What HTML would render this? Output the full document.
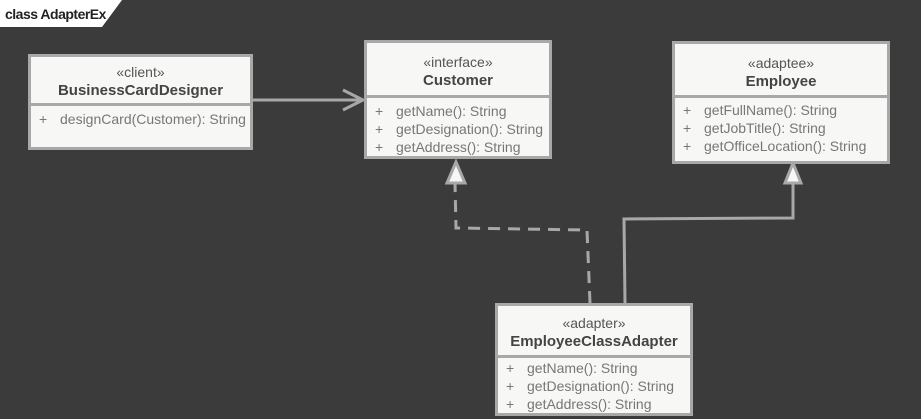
<!DOCTYPE html><html><head><style>
body{margin:0;width:921px;height:419px;background:#3b3b3b;position:relative;overflow:hidden;font-family:"Liberation Sans",sans-serif;}
.b{position:absolute;background:#f7f7f5;border:3px solid #a8a8a8;box-sizing:border-box;color:#555;}
.h{text-align:center;border-bottom:3px solid #a8a8a8;font-size:14px;line-height:18px;padding-top:6px;}
.h b{color:#444;font-size:15px;}
.r{font-size:14px;line-height:18px;padding-left:8px;color:#777;white-space:nowrap;}
.r span{display:inline-block;width:21px;}
</style></head><body>
<svg width="921" height="419" style="position:absolute;left:0;top:0">
<polygon points="0,0 122,0 102,27 0,27" fill="#fff"/>
<text x="5" y="19" font-family="Liberation Sans" font-size="14" font-weight="bold" fill="#222" letter-spacing="-0.5">class AdapterEx</text>
<g stroke="#a8a8a8" stroke-width="3" fill="none">
<line x1="252" y1="100" x2="362" y2="100"/>
<polyline points="343,90 363,100 343,110"/>
<polyline points="590,303 587,230 456,228 455,183" stroke-dasharray="12,8"/>
<polyline points="625,303 624,219 793,218 793,183"/>
<polygon points="456,162 447,183 465,183" fill="#f7f7f5"/>
<polygon points="793,163 785,183 801,183" fill="#f7f7f5"/>
</g></svg>
<div class="b" style="left:28px;top:54px;width:225px;height:96px"><div class="h" style="height:40px">«client»<br><b>BusinessCardDesigner</b></div><div class="r" style="padding-top:4px"><span>+</span>designCard(Customer): String</div></div>
<div class="b" style="left:364px;top:40px;width:188px;height:119px"><div class="h" style="padding-top:10px;box-sizing:border-box;height:55px">«interface»<br><b>Customer</b></div><div class="r" style="padding-top:4px"><span>+</span>getName(): String<br><span>+</span>getDesignation(): String<br><span>+</span>getAddress(): String</div></div>
<div class="b" style="left:672px;top:41px;width:218px;height:123px"><div class="h" style="padding-top:10px;box-sizing:border-box;height:54px">«adaptee»<br><b>Employee</b></div><div class="r" style="padding-top:3px"><span>+</span>getFullName(): String<br><span>+</span>getJobTitle(): String<br><span>+</span>getOfficeLocation(): String</div></div>
<div class="b" style="left:495px;top:303px;width:198px;height:113px"><div class="h" style="padding-top:8px;box-sizing:border-box;height:52px">«adapter»<br><b>EmployeeClassAdapter</b></div><div class="r" style="padding-top:1px"><span>+</span>getName(): String<br><span>+</span>getDesignation(): String<br><span>+</span>getAddress(): String</div></div>
</body></html>
